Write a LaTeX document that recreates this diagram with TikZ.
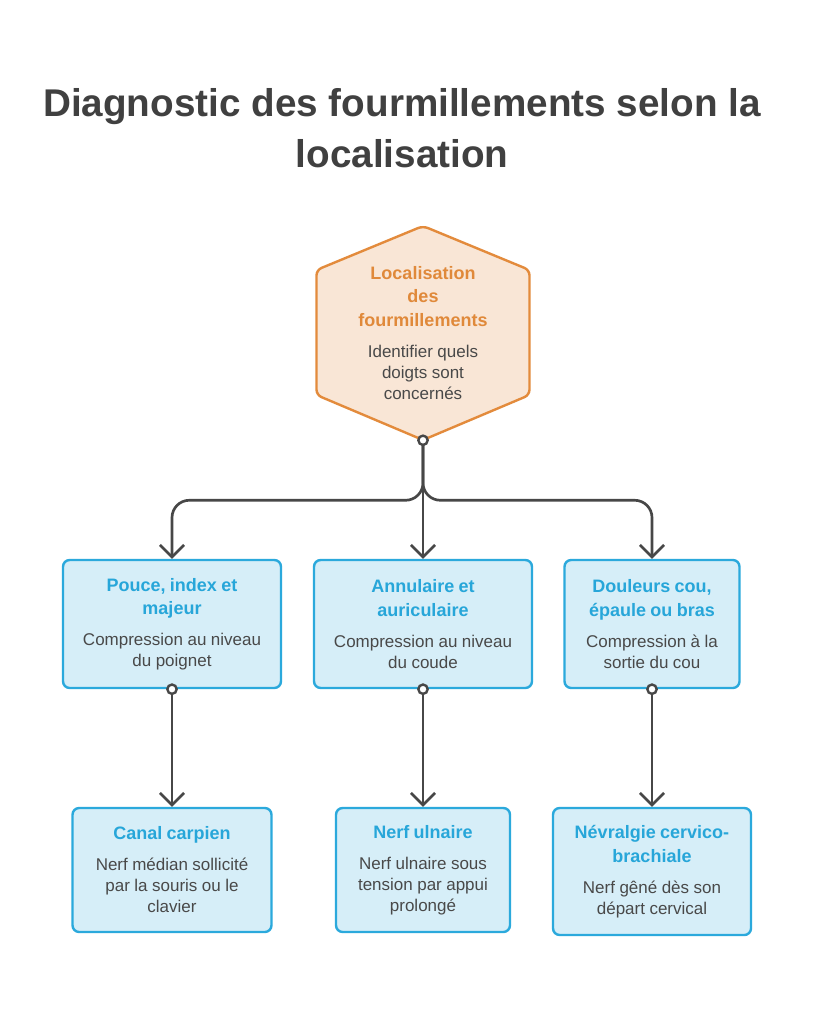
\documentclass[tikz,border=0pt]{standalone}
\usepackage{fontspec}
\setmainfont{Liberation Sans}
\usetikzlibrary{arrows.meta,positioning,calc}
\definecolor{hexline}{HTML}{E38B3C}
\definecolor{hexfill}{HTML}{F9E6D6}
\definecolor{hextext}{HTML}{E0893A}
\definecolor{boxline}{HTML}{2BA9DC}
\definecolor{boxfill}{HTML}{D6EEF8}
\definecolor{boxtext}{HTML}{27A6D9}
\definecolor{txtgray}{HTML}{494949}
\definecolor{ttlgray}{HTML}{404040}
\definecolor{linegray}{HTML}{474747}

\newcommand{\hd}[1]{{\fontsize{13.5}{17.5}\selectfont\bfseries #1\par}}
\newcommand{\tx}[1]{\vspace{7.5pt}{\fontsize{12.75}{15.75}\selectfont\color{txtgray}#1\par}}

\tikzset{
  bluebox/.style={draw=boxline, fill=boxfill, line width=1.8pt, rounded corners=5pt,
                  inner sep=0pt, align=center, text=boxtext},
  hexshape/.style={draw=hexline, fill=hexfill, line width=1.8pt, rounded corners=4pt},
  conn/.style={draw=linegray, line width=2pt, -{Straight Barb[length=9pt,width=18pt]}},
  dot/.style={circle, draw=linegray, fill=white, line width=1.8pt, inner sep=0pt, minimum size=7pt}
}

\begin{document}
\begin{tikzpicture}[x=0.75pt,y=-0.75pt]
  \fill[white] (0,0) rectangle (815,1024);
  \useasboundingbox (0,0) rectangle (815,1024);

  % title
  \node[align=center, text=ttlgray, font=\fontsize{29}{38.5}\selectfont\bfseries] (title) at (402,128)
       {Diagnostic des fourmillements selon la\\localisation};

  % hexagon
  \coordinate (hc) at (423,333);
  \draw[hexshape] ($(hc)+(0,-107)$) -- ($(hc)+(106.5,-63)$) -- ($(hc)+(106.5,62)$)
    -- ($(hc)+(0,107)$) -- ($(hc)+(-106.5,62)$) -- ($(hc)+(-106.5,-63)$) -- cycle;
  \node[minimum width=159.75pt, minimum height=160.5pt, inner sep=0pt, text width=150pt,
        align=center, text=hextext] (loc) at (hc)
       {\hd{Localisation\\des\\fourmillements}\tx{Identifier quels\\doigts sont\\concernés}};

  % second row
  \node[bluebox, minimum width=163.5pt, minimum height=96pt, text width=152pt] (pouce) at (172,624)
       {\hd{Pouce, index et\\majeur}\tx{Compression au niveau\\du poignet}};
  \node[bluebox, minimum width=163.5pt, minimum height=96pt, text width=152pt] (annul) at (423,624)
       {\hd{Annulaire et\\auriculaire}\tx{Compression au niveau\\du coude}};
  \node[bluebox, minimum width=131.25pt, minimum height=96pt, text width=122pt] (cou) at (652,624)
       {\hd{Douleurs cou,\\épaule ou bras}\tx{Compression à la\\sortie du cou}};

  % third row
  \node[bluebox, minimum width=149.25pt, minimum height=93pt, text width=138pt] (canal) at (172,870)
       {\hd{Canal carpien}\tx{Nerf médian sollicité\\par la souris ou le\\clavier}};
  \node[bluebox, minimum width=130.5pt, minimum height=93pt, text width=122pt] (ulnaire) at (423,870)
       {\hd{Nerf ulnaire}\tx{Nerf ulnaire sous\\tension par appui\\prolongé}};
  \node[bluebox, minimum width=148.5pt, minimum height=95.25pt, text width=138pt] (nevral) at (652,871.5)
       {\hd{Névralgie cervico-\\brachiale}\tx{Nerf gêné dès son\\départ cervical}};

  % connectors
  \draw[conn, rounded corners=13pt] (loc.south) -- ++(0,60) -| (pouce.north);
  \draw[conn, rounded corners=13pt] (loc.south) -- ++(0,60) -| (cou.north);
  \draw[conn] (loc.south) -- (annul.north);
  \draw[conn] (pouce.south) -- (canal.north);
  \draw[conn] (annul.south) -- (ulnaire.north);
  \draw[conn] (cou.south) -- (nevral.north);

  \node[dot] (d0) at (loc.south) {};
  \node[dot] (d1) at (pouce.south) {};
  \node[dot] (d2) at (annul.south) {};
  \node[dot] (d3) at (cou.south) {};
\end{tikzpicture}
\end{document}
